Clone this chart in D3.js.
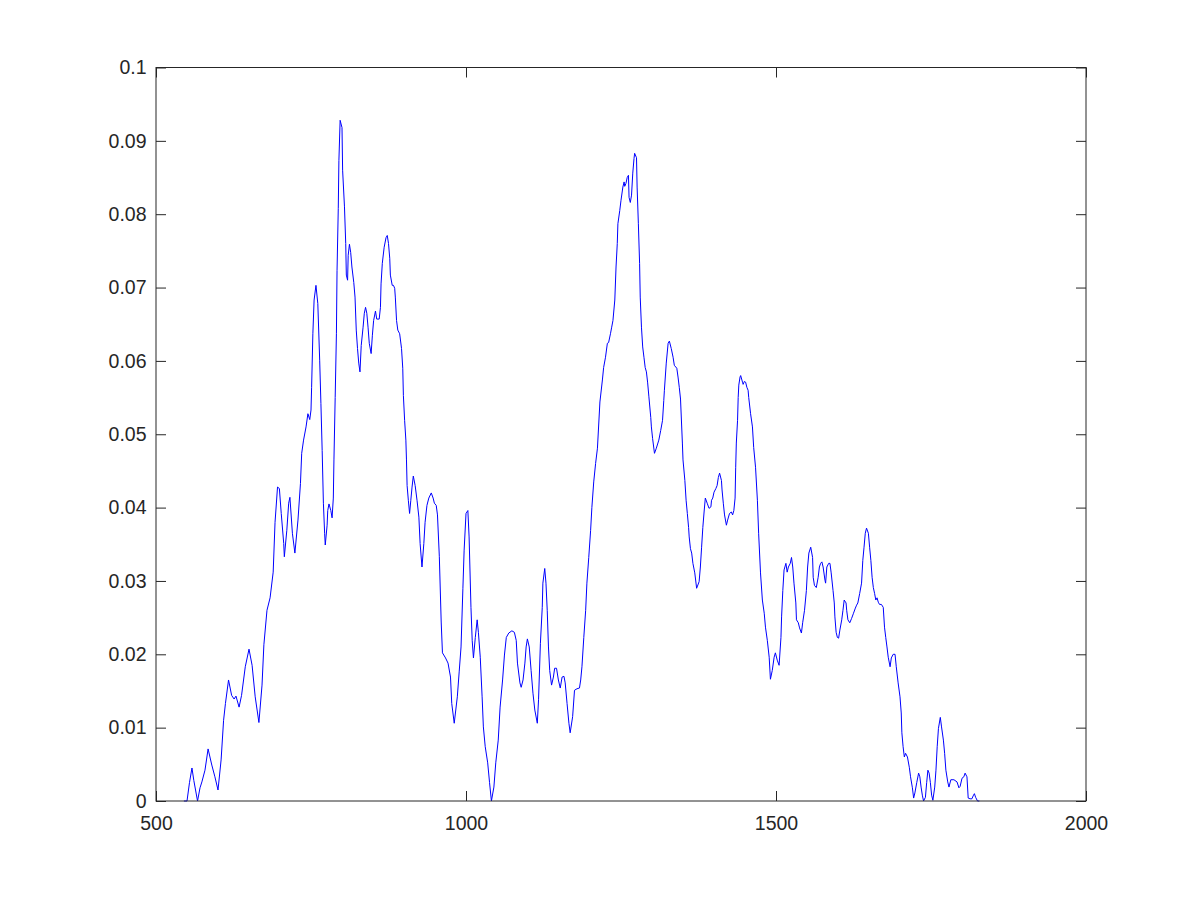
<!DOCTYPE html>
<html>
<head>
<meta charset="utf-8">
<script src="https://cdn.jsdelivr.net/npm/d3@7"></script>
<style>
  body { margin: 0; background: #fff; }
  .axis text { font-family: "Liberation Sans", Arial, sans-serif; font-size: 19.5px; fill: #262626; }
  .axis line { stroke: #262626; }
</style>
</head>
<body>
<div class="chart-area"></div>
<script>
// x positions of the samples
const xValues = [
  545, 550, 554, 558, 561, 567, 571, 574, 579, 584, 590, 595, 600, 605, 609, 612, 617, 622, 626, 629,
  634, 638, 644, 650, 655, 660, 666, 671, 674, 679, 684, 689, 692, 696, 699, 702, 706, 707, 711, 714,
  716, 720, 724, 729, 733, 735, 738, 742, 745, 748, 750, 751, 753, 755, 758, 761, 764, 766, 768, 770,
  772, 773, 776, 777, 779, 782, 784, 786, 787, 789, 791, 792, 794, 795, 797, 800, 801, 804, 806, 807,
  809, 810, 812, 814, 816, 819, 821, 823, 825, 827, 829, 831, 834, 836, 838, 840, 842, 844, 847, 849,
  851, 854, 856, 860, 862, 863, 865, 868, 871, 873, 875, 877, 878, 881, 883, 885, 886, 888, 890, 893,
  896, 898, 899, 901, 903, 904, 905, 907, 909, 911, 913, 915, 918, 921, 924, 926, 929, 932, 934, 937,
  940, 944, 947, 949, 952, 954, 957, 960, 962, 967, 971, 975, 977, 981, 986, 989, 992, 995, 997, 1000,
  1003, 1005, 1008, 1010, 1012, 1015, 1018, 1020, 1023, 1026, 1028, 1031, 1035, 1038, 1041, 1045, 1048, 1052, 1055, 1059,
  1062, 1065, 1069, 1074, 1078, 1081, 1083, 1087, 1089, 1092, 1095, 1097, 1099, 1102, 1105, 1108, 1111, 1115, 1117, 1120,
  1123, 1124, 1127, 1129, 1131, 1133, 1135, 1138, 1141, 1143, 1146, 1149, 1152, 1155, 1158, 1160, 1163, 1166, 1168, 1172,
  1175, 1179, 1183, 1185, 1187, 1190, 1193, 1195, 1198, 1201, 1203, 1206, 1209, 1212, 1216, 1220, 1222, 1225, 1228, 1230,
  1233, 1235, 1237, 1240, 1242, 1244, 1245, 1248, 1250, 1253, 1255, 1256, 1258, 1260, 1262, 1263, 1265, 1267, 1269, 1271,
  1272, 1275, 1276, 1278, 1280, 1281, 1283, 1285, 1287, 1289, 1291, 1293, 1295, 1298, 1299, 1301, 1304, 1307, 1311, 1314,
  1317, 1319, 1320, 1323, 1326, 1328, 1331, 1334, 1336, 1340, 1342, 1344, 1346, 1349, 1350, 1353, 1355, 1357, 1359, 1360,
  1362, 1364, 1366, 1369, 1372, 1376, 1378, 1380, 1382, 1384, 1386, 1389, 1392, 1395, 1396, 1398, 1400, 1403, 1405, 1407,
  1409, 1412, 1413, 1415, 1417, 1420, 1422, 1425, 1428, 1430, 1432, 1434, 1435, 1436, 1438, 1439, 1440, 1442, 1443, 1446,
  1447, 1449, 1451, 1453, 1455, 1456, 1459, 1462, 1464, 1467, 1470, 1472, 1475, 1478, 1481, 1483, 1486, 1489, 1491, 1494,
  1497, 1499, 1502, 1505, 1508, 1509, 1511, 1513, 1516, 1518, 1520, 1523, 1525, 1527, 1529, 1532, 1533, 1536, 1538, 1541,
  1543, 1546, 1549, 1551, 1553, 1556, 1559, 1560, 1562, 1565, 1568, 1570, 1572, 1574, 1576, 1579, 1580, 1582, 1585, 1587,
  1589, 1592, 1594, 1595, 1597, 1599, 1601, 1603, 1606, 1608, 1610, 1613, 1614, 1616, 1619, 1622, 1625, 1628, 1630, 1632,
  1635, 1638, 1640, 1642, 1644, 1646, 1649, 1651, 1653, 1655, 1657, 1659, 1661, 1663, 1665, 1667, 1670, 1673, 1675, 1677,
  1679, 1681, 1684, 1686, 1689, 1692, 1694, 1697, 1700, 1702, 1703, 1705, 1707, 1709, 1712, 1715, 1717, 1720, 1722, 1724,
  1727, 1730, 1732, 1734, 1736, 1738, 1741, 1743, 1745, 1747, 1749, 1751, 1753, 1756, 1758, 1760, 1762, 1765, 1767, 1770,
  1772, 1774, 1777, 1779, 1782, 1787, 1792, 1795, 1797, 1800, 1803, 1805, 1808, 1810, 1813, 1816, 1818, 1820, 1822, 1825,
  1828
];

// y values of the samples
const yValues = [
  0, 0, 0.0025, 0.0045, 0.0028, 0, 0.0018, 0.0026, 0.0042, 0.0071, 0.0049, 0.0033, 0.0015, 0.0056, 0.011, 0.0133, 0.0165, 0.0144, 0.0139, 0.0143,
  0.0128, 0.0144, 0.0183, 0.0207, 0.0185, 0.0142, 0.0107, 0.0158, 0.0213, 0.026, 0.0277, 0.0312, 0.038, 0.0428, 0.0426, 0.0392, 0.0351, 0.0333, 0.0369, 0.0406,
  0.0414, 0.0365, 0.0338, 0.0383, 0.0433, 0.0474, 0.0492, 0.051, 0.0528, 0.052, 0.0533, 0.0564, 0.0637, 0.0683, 0.0703, 0.0678, 0.0601, 0.0542, 0.0478, 0.0406,
  0.0365, 0.0349, 0.0376, 0.0396, 0.0405, 0.0396, 0.0386, 0.0413, 0.0465, 0.055, 0.0637, 0.0723, 0.0808, 0.0873, 0.0928, 0.0918, 0.086, 0.081, 0.076, 0.0717,
  0.071, 0.0744, 0.0759, 0.0748, 0.0728, 0.0707, 0.0687, 0.0642, 0.0617, 0.0597, 0.0585, 0.0621, 0.0646, 0.0665, 0.0673, 0.0665, 0.0646, 0.0624, 0.061, 0.0635,
  0.0655, 0.0668, 0.0657, 0.0657, 0.0673, 0.0705, 0.0733, 0.0755, 0.0768, 0.0771, 0.076, 0.074, 0.0717, 0.0703, 0.0703, 0.0699, 0.0687, 0.0655, 0.0642, 0.0637,
  0.0617, 0.059, 0.0553, 0.0519, 0.0492, 0.0465, 0.043, 0.041, 0.0392, 0.041, 0.0428, 0.0443, 0.043, 0.041, 0.0387, 0.0351, 0.0319, 0.0351, 0.038, 0.0403,
  0.0413, 0.042, 0.0413, 0.0406, 0.0403, 0.039, 0.0333, 0.0244, 0.0202, 0.0195, 0.0188, 0.0169, 0.0133, 0.0106, 0.0142, 0.0176, 0.021, 0.029, 0.0342, 0.0392,
  0.0396, 0.036, 0.0264, 0.0219, 0.0195, 0.0223, 0.0247, 0.023, 0.0196, 0.0142, 0.0101, 0.0074, 0.0052, 0.0025, 0, 0.0019, 0.0052, 0.0083, 0.0128, 0.0165,
  0.0199, 0.0223, 0.0229, 0.0232, 0.023, 0.0219, 0.0188, 0.0161, 0.0155, 0.0165, 0.0188, 0.021, 0.0221, 0.021, 0.0178, 0.0147, 0.0124, 0.0106, 0.0138, 0.0215,
  0.0264, 0.0297, 0.0317, 0.0297, 0.026, 0.021, 0.0178, 0.0158, 0.0169, 0.0181, 0.0181, 0.0165, 0.0154, 0.0169, 0.017, 0.0161, 0.0133, 0.0106, 0.0093, 0.0115,
  0.0151, 0.0153, 0.0154, 0.0165, 0.0183, 0.0223, 0.026, 0.0297, 0.0332, 0.0369, 0.04, 0.0435, 0.046, 0.0481, 0.0544, 0.0574, 0.0591, 0.0605, 0.0624, 0.0625,
  0.0637, 0.0646, 0.0655, 0.0683, 0.0728, 0.076, 0.0787, 0.0805, 0.0819, 0.0837, 0.0844, 0.0838, 0.0842, 0.085, 0.0853, 0.0823, 0.0816, 0.0826, 0.0856, 0.0876,
  0.0883, 0.0877, 0.0837, 0.0787, 0.0733, 0.0687, 0.0646, 0.0619, 0.0605, 0.0591, 0.0585, 0.057, 0.0551, 0.0523, 0.051, 0.0494, 0.0474, 0.0481, 0.0492, 0.0505,
  0.0519, 0.0546, 0.056, 0.0597, 0.0624, 0.0627, 0.0617, 0.0605, 0.0594, 0.059, 0.0578, 0.0564, 0.0548, 0.0488, 0.0465, 0.0437, 0.041, 0.0392, 0.0373, 0.036,
  0.0344, 0.0338, 0.0324, 0.0311, 0.029, 0.0299, 0.0319, 0.0346, 0.0373, 0.0394, 0.0413, 0.0406, 0.0399, 0.0401, 0.041, 0.0413, 0.0421, 0.0426, 0.043, 0.0441,
  0.0447, 0.0437, 0.0424, 0.0406, 0.039, 0.0376, 0.0383, 0.0392, 0.0394, 0.039, 0.0396, 0.0413, 0.0455, 0.0488, 0.0519, 0.055, 0.0567, 0.0578, 0.058, 0.0571,
  0.0568, 0.0572, 0.0571, 0.0564, 0.056, 0.055, 0.0528, 0.051, 0.0482, 0.0455, 0.041, 0.0365, 0.0311, 0.0274, 0.0256, 0.0237, 0.0219, 0.0196, 0.0166, 0.0178,
  0.0196, 0.0202, 0.0192, 0.0185, 0.0223, 0.0251, 0.0287, 0.0315, 0.0324, 0.0312, 0.0319, 0.0324, 0.0332, 0.0319, 0.0297, 0.027, 0.0247, 0.0243, 0.0236, 0.0229,
  0.0243, 0.026, 0.0287, 0.0319, 0.0338, 0.0346, 0.0332, 0.0305, 0.0294, 0.0291, 0.0305, 0.0319, 0.0324, 0.0326, 0.0319, 0.0301, 0.0297, 0.0319, 0.0324, 0.0324,
  0.0311, 0.0287, 0.027, 0.0251, 0.023, 0.0223, 0.0222, 0.0233, 0.0247, 0.026, 0.0274, 0.027, 0.026, 0.0247, 0.0243, 0.0249, 0.0256, 0.0263, 0.0267, 0.027,
  0.0283, 0.0297, 0.0328, 0.0346, 0.0365, 0.0372, 0.0365, 0.0346, 0.0328, 0.0305, 0.0291, 0.0283, 0.0274, 0.0277, 0.0271, 0.0268, 0.0268, 0.0264, 0.0237, 0.0223,
  0.021, 0.0196, 0.0183, 0.0195, 0.02, 0.02, 0.0183, 0.0161, 0.0142, 0.012, 0.0093, 0.0074, 0.006, 0.0065, 0.006, 0.0046, 0.0033, 0.0018, 0.0004, 0.0011,
  0.0025, 0.0038, 0.0033, 0.0019, 0.0008, 0, 0.0005, 0.0025, 0.0042, 0.0038, 0.0025, 0.0008, 0.0001, 0.0019, 0.0042, 0.0074, 0.0099, 0.0114, 0.0101, 0.0083,
  0.0065, 0.0042, 0.0026, 0.0019, 0.0029, 0.0029, 0.0026, 0.0018, 0.002, 0.0031, 0.0033, 0.0038, 0.0033, 0.0004, 0.0003, 0.0003, 0.0007, 0.001, 0.0005, 0,
  0
];

const xTicks = [500, 1000, 1500, 2000];
const yTicks = [0, 0.01, 0.02, 0.03, 0.04, 0.05, 0.06, 0.07, 0.08, 0.09, 0.1];

const data = xValues.map((x, i) => ({x: x, y: yValues[i]}));

let outerWidth = 1200;
let outerHeight = 900;
let margin = {top: 67.5, right: 114, bottom: 99, left: 156};
let width = outerWidth - margin.left - margin.right, height = outerHeight - margin.top - margin.bottom;

let svg = d3.select('.chart-area').append('svg')
    .attr('width', outerWidth)
    .attr('height', outerHeight)
    .append('g')
    .attr('transform', `translate(${margin.left},${margin.top})`);

let xScale = d3.scaleLinear().domain([500, 2000]).range([0, width]);
let yScale = d3.scaleLinear().domain([0, 0.1]).range([height, 0]);

const line = d3.line()
    .x(d => xScale(d.x))
    .y(d => yScale(d.y));

svg.append('path')
    .datum(data)
    .attr('fill', 'none')
    .attr('stroke', '#0000ff')
    .attr('stroke-width', 1)
    .attr('stroke-linejoin', 'round')
    .attr('d', line);

// ticks point inward, like matlab
let xAxis = d3.axisBottom(xScale).tickValues(xTicks).tickFormat(d3.format('d'))
    .tickSizeInner(-10).tickSizeOuter(0).tickPadding(15);
let yAxis = d3.axisLeft(yScale).tickValues(yTicks).tickFormat(d => d === 0 ? '0' : String(+d.toFixed(2)))
    .tickSizeInner(-10).tickSizeOuter(0).tickPadding(9.5);
let xTop = d3.axisTop(xScale).tickValues(xTicks).tickFormat('').tickSizeInner(-10).tickSizeOuter(0);
let yRight = d3.axisRight(yScale).tickValues(yTicks).tickFormat('').tickSizeInner(-10).tickSizeOuter(0);

let gx = svg.append('g').attr('class', 'axis').attr('transform', `translate(0,${height})`).call(xAxis);
let gy = svg.append('g').attr('class', 'axis').call(yAxis);
let gt = svg.append('g').attr('class', 'axis').call(xTop);
let gr = svg.append('g').attr('class', 'axis').attr('transform', `translate(${width},0)`).call(yRight);

[gx, gy, gt, gr].forEach(g => {
    g.select('.domain').remove();
    g.attr('font-family', null).attr('font-size', null);
});

// box around the plot
svg.append('rect')
    .attr('x', 0)
    .attr('y', 0)
    .attr('width', width)
    .attr('height', height)
    .attr('fill', 'none')
    .attr('stroke', '#262626')
    .attr('stroke-width', 1);
</script>
</body>
</html>
